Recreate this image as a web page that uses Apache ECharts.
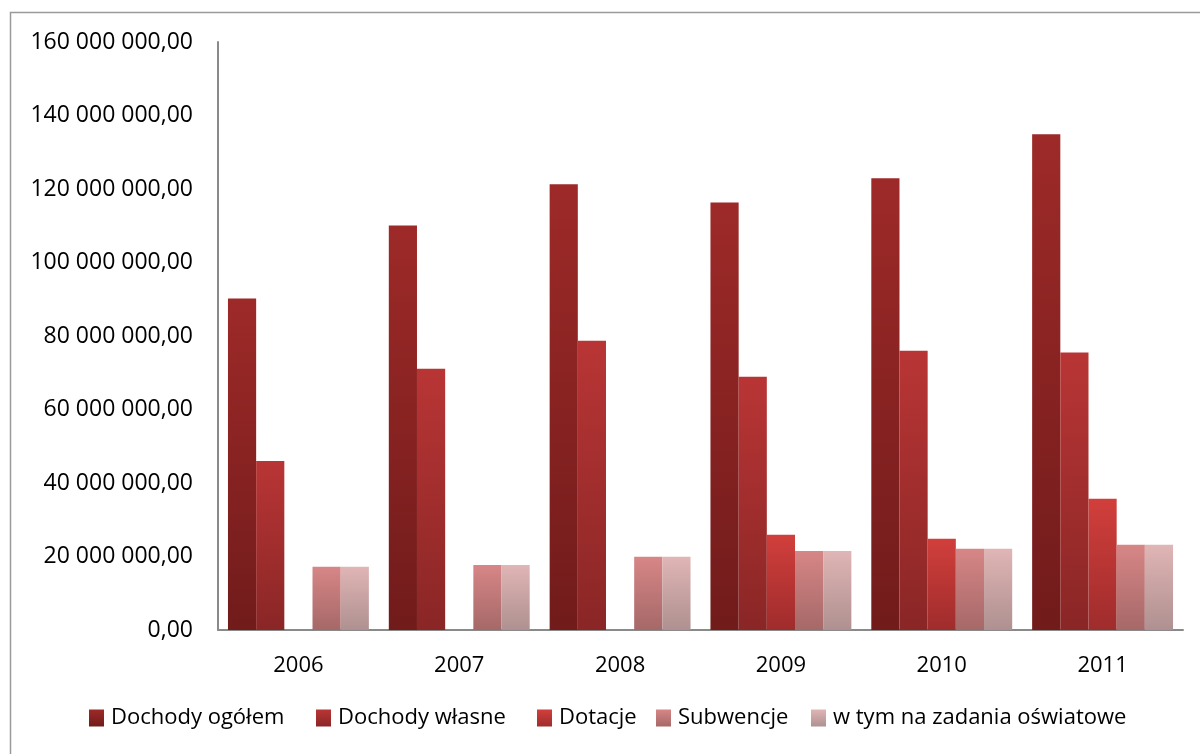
<!DOCTYPE html>
<html><head><meta charset="utf-8">
<script src="https://cdn.jsdelivr.net/npm/echarts@6/dist/echarts.min.js"></script>
<style>html,body{margin:0;padding:0;background:#fff}#c{width:1200px;height:754px}</style>
</head><body><div id="c"></div>
<script>
const categories = ['2006','2007','2008','2009','2010','2011'];
const seriesNames = ['Dochody ogółem','Dochody własne','Dotacje','Subwencje','w tym na zadania oświatowe'];
const dochodyOgolem = [90200000,110100000,121300000,116300000,122900000,134900000];
const dochodyWlasne = [46000000,71100000,78700000,68900000,76000000,75500000];
const dotacje = [0,0,0,25900000,24800000,35700000];
const subwencje = [17200000,17700000,19900000,21500000,22100000,23200000];
const oswiatowe = [17200000,17700000,19900000,21500000,22100000,23200000];
const yTicks = {min:0,max:160000000,interval:20000000};

const allData = [dochodyOgolem,dochodyWlasne,dotacje,subwencje,oswiatowe];
const grads = [['#9d2a28','#711b1b'],['#b93535','#8a2626'],['#d13f3c','#9f2c2c'],['#d78686','#a66868'],['#e0b5b5','#af9090']];
const legendLefts = [89,316,537,656,811];
const FONT = 'Open Sans';

function fmt(v){
  const s = Math.round(v).toString().replace(/\B(?=(\d{3})+(?!\d))/g,' ');
  return s + ',00';
}
function grad(c){
  return {type:'linear',x:0,y:0,x2:0,y2:1,colorStops:[{offset:0,color:c[0]},{offset:1,color:c[1]}]};
}
const chart = echarts.init(document.getElementById('c'));
chart.setOption({
  animation:false,
  textStyle:{fontFamily:FONT},
  graphic:[{type:'rect',shape:{x:10.5,y:12.5,width:1300,height:900},style:{fill:'none',stroke:'#9a9a9a',lineWidth:1.5},silent:true}],
  legend: seriesNames.map((n,i)=>({
    data:[n], left:legendLefts[i], top:707, itemWidth:15, itemHeight:17, icon:'rect', padding:0,
    textStyle:{fontFamily:FONT,fontSize:22,color:'#000',padding:[0,0,0,2]}
  })),
  grid:{left:218,right:17,top:42,bottom:124,containLabel:false},
  xAxis:{type:'category',data:categories,
    axisLine:{lineStyle:{color:'#8a8a8a',width:2}},axisTick:{show:false},
    axisLabel:{color:'#000',fontSize:22,fontFamily:FONT,margin:25}},
  yAxis:{type:'value',min:yTicks.min,max:yTicks.max,interval:yTicks.interval,
    axisLine:{show:true,lineStyle:{color:'#8a8a8a',width:2}},axisTick:{show:false},
    splitLine:{show:false},
    axisLabel:{color:'#000',fontSize:23,fontFamily:FONT,margin:25,formatter:fmt}},
  series: seriesNames.map((n,i)=>({
    name:n,type:'bar',data:allData[i],barGap:'0%',barCategoryGap:'12.4%',
    itemStyle:{color:grad(grads[i])}
  }))
});
</script></body></html>
